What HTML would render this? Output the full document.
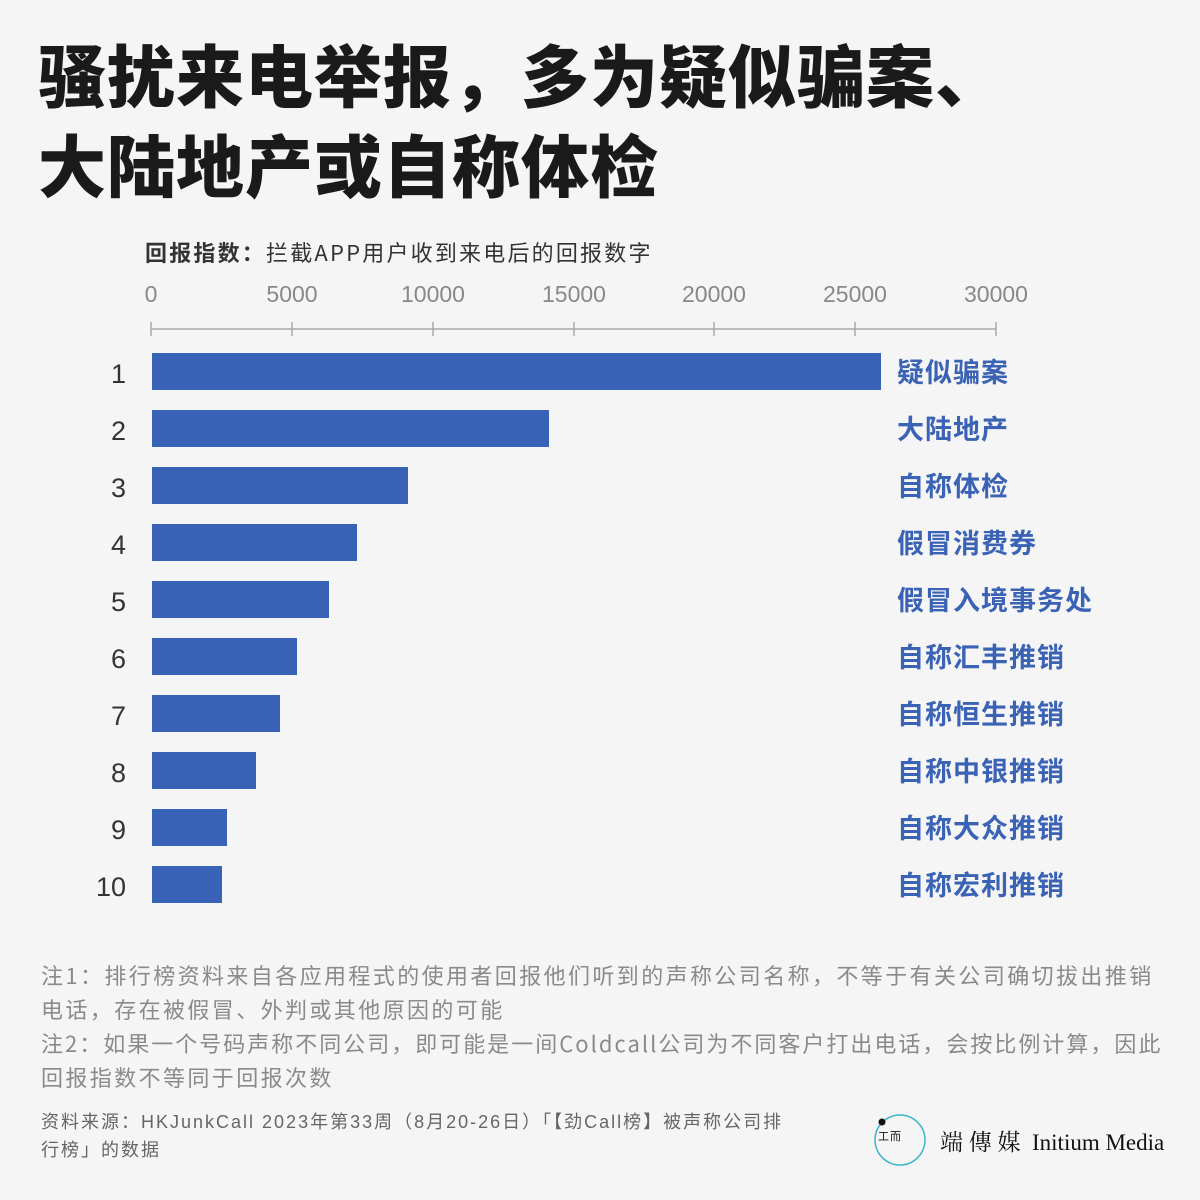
<!DOCTYPE html>
<html><head><meta charset="utf-8"><style>
body{margin:0;width:1200px;height:1200px;background:#f5f5f5;font-family:"Liberation Sans","Noto Sans CJK SC",sans-serif;position:relative;overflow:hidden}
.a{position:absolute;white-space:nowrap}
.t{left:38px;font-size:68px;font-weight:900;color:#1a1a1a;line-height:90px;letter-spacing:1px;font-family:"Noto Sans CJK SC",sans-serif}
.lab{left:897px;font-size:27px;font-weight:700;color:#3a62b5;line-height:40px;letter-spacing:1px;font-family:"Noto Sans CJK SC",sans-serif}
.num{width:80px;left:46px;text-align:right;font-size:27px;color:#333;line-height:40px}
.bar{position:absolute;left:152px;height:37px;background:#3762b6}
.note{left:41px;font-size:22px;color:#8a8a8a;line-height:34px;letter-spacing:2.4px;font-family:"Noto Sans CJK SC",sans-serif}
.src{left:41px;font-size:18px;color:#666;line-height:28px;letter-spacing:2px}
.tk{position:absolute;font-size:23px;color:#888;top:281px;width:100px;margin-left:-50px;text-align:center}
</style></head><body>
<div class="a t" style="top:28px">骚扰来电举报，多为疑似骗案、</div>
<div class="a t" style="top:118px">大陆地产或自称体检</div>
<div class="a" style="left:145px;top:236px;font-size:22px;color:#333;letter-spacing:2.2px;font-family:'Noto Sans CJK SC',sans-serif"><b>回报指数：</b>拦截APP用户收到来电后的回报数字</div>
<div class="tk" style="left:151px">0</div><div class="tk" style="left:292px">5000</div><div class="tk" style="left:433px">10000</div><div class="tk" style="left:574px">15000</div><div class="tk" style="left:714px">20000</div><div class="tk" style="left:855px">25000</div><div class="tk" style="left:996px">30000</div>
<svg class="a" style="left:0;top:0" width="1200" height="400"><g stroke="#aaa" stroke-width="1.5">
<line x1="151" y1="329" x2="996" y2="329"/>
<line x1="151" y1="322" x2="151" y2="336"/><line x1="292" y1="322" x2="292" y2="336"/><line x1="433" y1="322" x2="433" y2="336"/><line x1="574" y1="322" x2="574" y2="336"/><line x1="714" y1="322" x2="714" y2="336"/><line x1="855" y1="322" x2="855" y2="336"/><line x1="996" y1="322" x2="996" y2="336"/></g></svg>
<div class="bar" style="top:353px;width:729px"></div>
<div class="bar" style="top:410px;width:397px"></div>
<div class="bar" style="top:467px;width:256px"></div>
<div class="bar" style="top:524px;width:205px"></div>
<div class="bar" style="top:581px;width:177px"></div>
<div class="bar" style="top:638px;width:145px"></div>
<div class="bar" style="top:695px;width:128px"></div>
<div class="bar" style="top:752px;width:104px"></div>
<div class="bar" style="top:809px;width:75px"></div>
<div class="bar" style="top:866px;width:70px"></div>
<div class="a num" style="top:354px">1</div><div class="a lab" style="top:351px">疑似骗案</div>
<div class="a num" style="top:411px">2</div><div class="a lab" style="top:408px">大陆地产</div>
<div class="a num" style="top:468px">3</div><div class="a lab" style="top:465px">自称体检</div>
<div class="a num" style="top:525px">4</div><div class="a lab" style="top:522px">假冒消费券</div>
<div class="a num" style="top:582px">5</div><div class="a lab" style="top:579px">假冒入境事务处</div>
<div class="a num" style="top:639px">6</div><div class="a lab" style="top:636px">自称汇丰推销</div>
<div class="a num" style="top:696px">7</div><div class="a lab" style="top:693px">自称恒生推销</div>
<div class="a num" style="top:753px">8</div><div class="a lab" style="top:750px">自称中银推销</div>
<div class="a num" style="top:810px">9</div><div class="a lab" style="top:807px">自称大众推销</div>
<div class="a num" style="top:867px">10</div><div class="a lab" style="top:864px">自称宏利推销</div>
<div class="a note" style="top:958px">注1：排行榜资料来自各应用程式的使用者回报他们听到的声称公司名称，不等于有关公司确切拔出推销<br>电话，存在被假冒、外判或其他原因的可能<br><span style="letter-spacing:2px">注2：如果一个号码声称不同公司，即可能是一间Coldcall公司为不同客户打出电话，会按比例计算，因此</span><br>回报指数不等同于回报次数</div>
<div class="a src" style="top:1108px">资料来源：HKJunkCall 2023年第33周（8月20-26日）「【劲Call榜】被声称公司排<br>行榜」的数据</div>
<svg class="a" style="left:872px;top:1112px" width="56" height="56"><circle cx="28" cy="28" r="25" fill="none" stroke="#3bb6c9" stroke-width="1.5"/><circle cx="10" cy="10" r="3.5" fill="#111"/><text x="6" y="28" font-size="11" fill="#111" font-family="Liberation Sans,sans-serif">工</text><text x="18" y="28" font-size="11" fill="#111" font-family="Noto Sans CJK SC,sans-serif">而</text></svg>
<div class="a" style="left:940px;top:1124px;font-size:23px;color:#111;font-family:'Liberation Serif','Noto Serif CJK SC',serif">端 傳 媒 &nbsp;Initium Media</div>
</body></html>
